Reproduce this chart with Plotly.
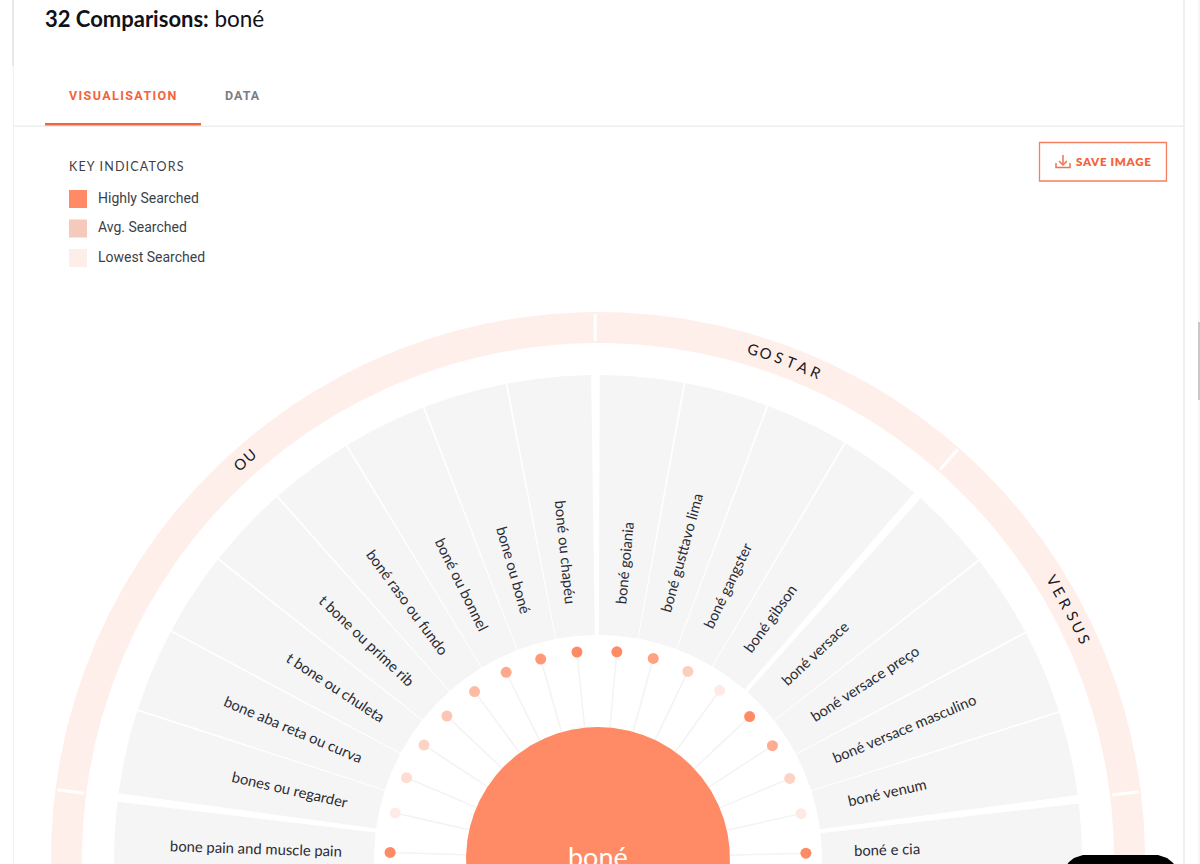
import math
import plotly.graph_objects as go

# ---- data ----
section_names = ["OU", "GOSTAR", "VERSUS"]
section_starts = [-82.3, 0.1, 41.7]
section_sizes = [8, 4, 4]

ou_terms = ["bones ou regarder", "bone aba reta ou curva", "t bone ou chuleta",
            "t bone ou prime rib", "boné raso ou fundo", "boné ou bonnel",
            "bone ou boné", "boné ou chapéu"]
gostar_terms = ["boné goiania", "boné gusttavo lima", "boné gangster", "boné gibson"]
versus_terms = ["boné versace", "boné versace preço", "boné versace masculino", "boné venum"]
lower_left_term = "bone pain and muscle pain"
lower_right_term = "boné e cia"

ou_levels = [0.03, 0.22, 0.32, 0.48, 0.58, 0.75, 0.88, 1.0]
gostar_levels = [1.0, 0.8, 0.38, 0.04]
versus_levels = [1.0, 0.72, 0.32, 0.05]
lower_left_level = 1.0
lower_right_level = 1.0

legend_labels = ["Highly Searched", "Avg. Searched", "Lowest Searched"]
legend_colors = ["#ff8b66", "#f6c9bd", "#feeeea"]
centre_term = "boné"

# ---- geometry: axes are laid out so one data unit is one pixel, origin at the hub ----
W, H = 1200, 864
CX, CY = 598.0, 859.0
R_OUTER, R_RING, R_CELL, R_HOLE, R_DOT, R_HUB, R_TEXT = 547, 516, 484, 224, 208, 132, 256
STEP = 10.2
CELL_GAP = 0.22
SECTION_GAP = 0.8
INK = "#2b2b33"
ORANGE = "#f4633a"
SCALE = [[0, "#feeeea"], [0.5, "#fdc4b2"], [1, "#ff8b66"]]
LABEL_FONT = "Lato"


def polar_xy(theta, r):
    a = math.radians(theta)
    return r * math.sin(a), r * math.cos(a)


def band(t0, t1, r0, r1):
    """Outline of an annular sector, in data coordinates."""
    n = max(2, int(abs(t1 - t0) / 0.25))
    ts = [t0 + (t1 - t0) * i / n for i in range(n + 1)]
    outer = [polar_xy(t, r1) for t in ts]
    inner = [polar_xy(t, r0) for t in reversed(ts)]
    pts = outer + inner + outer[:1]
    return [p[0] for p in pts], [p[1] for p in pts]


def bands_trace(spans, color):
    xs, ys = [], []
    for t0, t1, r0, r1 in spans:
        bx, by = band(t0, t1, r0, r1)
        xs += bx + [None]
        ys += by + [None]
    return go.Scatter(x=xs, y=ys, mode="lines", fill="toself", fillcolor=color,
                      line=dict(width=0, color=color), hoverinfo="skip")


# Collect every visible cell clockwise from the lower-left one.
thetas, terms, levels = [], [], []
thetas.append(section_starts[0] - SECTION_GAP - STEP / 2)
terms.append(lower_left_term)
levels.append(lower_left_level)
groups = [ou_terms, gostar_terms, versus_terms]
group_levels = [ou_levels, gostar_levels, versus_levels]
for start, size, names, lv in zip(section_starts, section_sizes, groups, group_levels):
    for i in range(size):
        thetas.append(start + STEP * (i + 0.5))
        terms.append(names[i])
        levels.append(lv[i])
section_end = section_starts[-1] + section_sizes[-1] * STEP
thetas.append(section_end + SECTION_GAP + STEP / 2)
terms.append(lower_right_term)
levels.append(lower_right_level)

fig = go.Figure()

# Outer ring: one band per section, plus the two that run off the bottom edge.
ring_edges = [(-125.0, section_starts[0] - SECTION_GAP / 2)]
for start, size in zip(section_starts, section_sizes):
    ring_edges.append((start - SECTION_GAP / 2, start + size * STEP + SECTION_GAP / 2))
ring_edges.append((section_end + SECTION_GAP / 2, 125.0))
fig.add_trace(bands_trace([(a, b, R_RING, R_OUTER) for a, b in ring_edges], "#ffefeb"))

# Short white ticks that split the ring.
tick_x, tick_y = [], []
for a, _ in ring_edges[1:]:
    x0, y0 = polar_xy(a, R_RING + 2)
    x1, y1 = polar_xy(a, R_OUTER - 2)
    tick_x += [x0, x1, None]
    tick_y += [y0, y1, None]
fig.add_trace(go.Scatter(x=tick_x, y=tick_y, mode="lines",
                         line=dict(color="white", width=3), hoverinfo="skip"))

# Grey term cells, including the two that continue below the visible area.
half = (STEP - CELL_GAP) / 2
cell_thetas = [thetas[0] - STEP] + thetas + [thetas[-1] + STEP]
fig.add_trace(bands_trace([(t - half, t + half, R_HOLE, R_CELL) for t in cell_thetas], "#f5f5f5"))

# Stems between hub and dots.
stem_x, stem_y = [], []
for t in thetas:
    x0, y0 = polar_xy(t, R_HUB)
    x1, y1 = polar_xy(t, R_DOT)
    stem_x += [x0, x1, None]
    stem_y += [y0, y1, None]
fig.add_trace(go.Scatter(x=stem_x, y=stem_y, mode="lines",
                         line=dict(color="#f3f3f3", width=1.5), hoverinfo="skip"))

# Search-volume dots.
dots = [polar_xy(t, R_DOT) for t in thetas]
fig.add_trace(go.Scatter(
    x=[d[0] for d in dots], y=[d[1] for d in dots], mode="markers",
    marker=dict(size=11, color=levels, colorscale=SCALE, cmin=0, cmax=1, line=dict(width=0)),
    hoverinfo="skip",
))

# Central hub.
fig.add_trace(bands_trace([(0, 360, 0, R_HUB)], "#ff8b66"))


def note(x, y, text, size, color=INK, family=LABEL_FONT, xanchor="left", yanchor="middle",
         angle=0, weight=None, data=False):
    font = dict(size=size, color=color, family=family)
    if weight:
        font["weight"] = weight
    if data:
        refs = dict(x=x, y=y, xref="x", yref="y")
    else:
        refs = dict(x=x / W, y=1 - y / H, xref="paper", yref="paper")
    fig.add_annotation(text=text, showarrow=False, xanchor=xanchor, yanchor=yanchor,
                       textangle=angle, font=font, borderpad=0, borderwidth=0, **refs)


# Term labels start at a shared radius and read away from or towards the hub.
TEXT_H = 17.0
for t, term in zip(thetas, terms):
    if t > 0:
        x, y = polar_xy(t - 0.4, R_TEXT)
        a = t - 90
        s = math.sin(math.radians(-a))
        c = math.cos(math.radians(-a))
        note(x - TEXT_H / 2 * s, y - TEXT_H / 2 * c, term, 14.8, xanchor="left", yanchor="bottom",
             angle=a, data=True)
    else:
        x, y = polar_xy(t, R_TEXT)
        a = t + 90
        s = math.sin(math.radians(a))
        c = math.cos(math.radians(a))
        note(x + TEXT_H / 2 * s, y - TEXT_H / 2 * c, term, 14.8, xanchor="right", yanchor="bottom",
             angle=a, data=True)

# Section names set letter by letter along the ring.
LETTER_STEP = 1.43
for name, start, size in zip(section_names, section_starts, section_sizes):
    mid = start + size * STEP / 2
    for k, ch in enumerate(name):
        t = mid + (k - (len(name) - 1) / 2) * LETTER_STEP
        x, y = polar_xy(t, 533.5)
        note(x, y, ch, 15, color="#1a1a22", xanchor="center", angle=t, data=True)

note(CX, 856.5, centre_term, 27, color="white", xanchor="center")

# Page furniture.
shapes = []


def rect(x0, y0, x1, y1, color):
    shapes.append(dict(type="rect", xref="paper", yref="paper", x0=x0 / W, x1=x1 / W,
                       y0=1 - y0 / H, y1=1 - y1 / H, fillcolor=color, layer="below",
                       line=dict(color=color, width=0)))


def outline(points, closing=""):
    return "M " + " L ".join(f"{a / W:.5f},{1 - b / H:.5f}" for a, b in points) + closing


rect(12, 0, 14, 66, "#e8e8e8")
rect(13, 66, 14, 864, "#efefef")
rect(1183, 0, 1185, 864, "#efefef")
rect(1198, 0, 1200, 864, "#f6f6f6")
rect(1198, 322, 1200, 400, "#c8c8c8")
rect(14, 125.5, 1183, 127, "#eeeeee")
rect(45, 123, 201, 125.5, ORANGE)
for i, (lab, col) in enumerate(zip(legend_labels, legend_colors)):
    y0 = 190 + 29.5 * i
    rect(69, y0, 87, y0 + 18, col)
    note(98, y0 + 7.5, lab, 14, color="#3c3f4a", family="Roboto")

fig.update_layout(shapes=shapes)

note(45, 19, '<b>32 Comparisons:</b> <span style="font-size:22.5px">boné</span>', 22, color="#111118")
note(69, 95, '<span style="letter-spacing:1.4px"><b>VISUALISATION</b></span>', 12.5, color=ORANGE, family="Roboto")
note(225, 95, '<span style="letter-spacing:1px"><b>DATA</b></span>', 12.5, color="#7d7d85", family="Roboto")
note(69, 166, '<span style="letter-spacing:1.15px">KEY INDICATORS</span>', 12.5, color="#3c3f4a")
note(1076, 161.5, '<span style="letter-spacing:0.7px">SAVE IMAGE</span>', 11.5, color="#f4633a", weight=800)

# Save button outline and its download glyph.
fig.add_shape(type="path", xref="paper", yref="paper", layer="below",
              path=outline([(1039.5, 142.5), (1166.5, 142.5), (1166.5, 181), (1039.5, 181)], " Z"),
              line=dict(color="#f4805f", width=1.3), fillcolor="white")
for seg in ([(1063, 155), (1063, 165)], [(1059, 161), (1063, 165), (1067, 161)],
            [(1056, 163), (1056, 167.5), (1070, 167.5), (1070, 163)]):
    fig.add_shape(type="path", xref="paper", yref="paper", path=outline(seg),
                  line=dict(color="#f4724f", width=1.5), fillcolor="rgba(0,0,0,0)")

# Chat launcher peeking in at the bottom corner.
fig.add_shape(type="path", xref="paper", yref="paper", layer="above", fillcolor="black",
              line=dict(width=0),
              path=outline([(1066, 866), (1069, 862), (1074, 858), (1083, 855), (1158, 855),
                            (1167, 858), (1172, 862), (1176, 866)], " Z"))

fig.update_layout(
    width=W, height=H, margin=dict(l=0, r=0, t=0, b=0),
    paper_bgcolor="white", plot_bgcolor="rgba(0,0,0,0)", showlegend=False,
    xaxis=dict(visible=False, range=[-CX, W - CX], fixedrange=True),
    yaxis=dict(visible=False, range=[CY - H, CY], fixedrange=True),
)
fig.write_html("out.html", config=dict(displayModeBar=False))
